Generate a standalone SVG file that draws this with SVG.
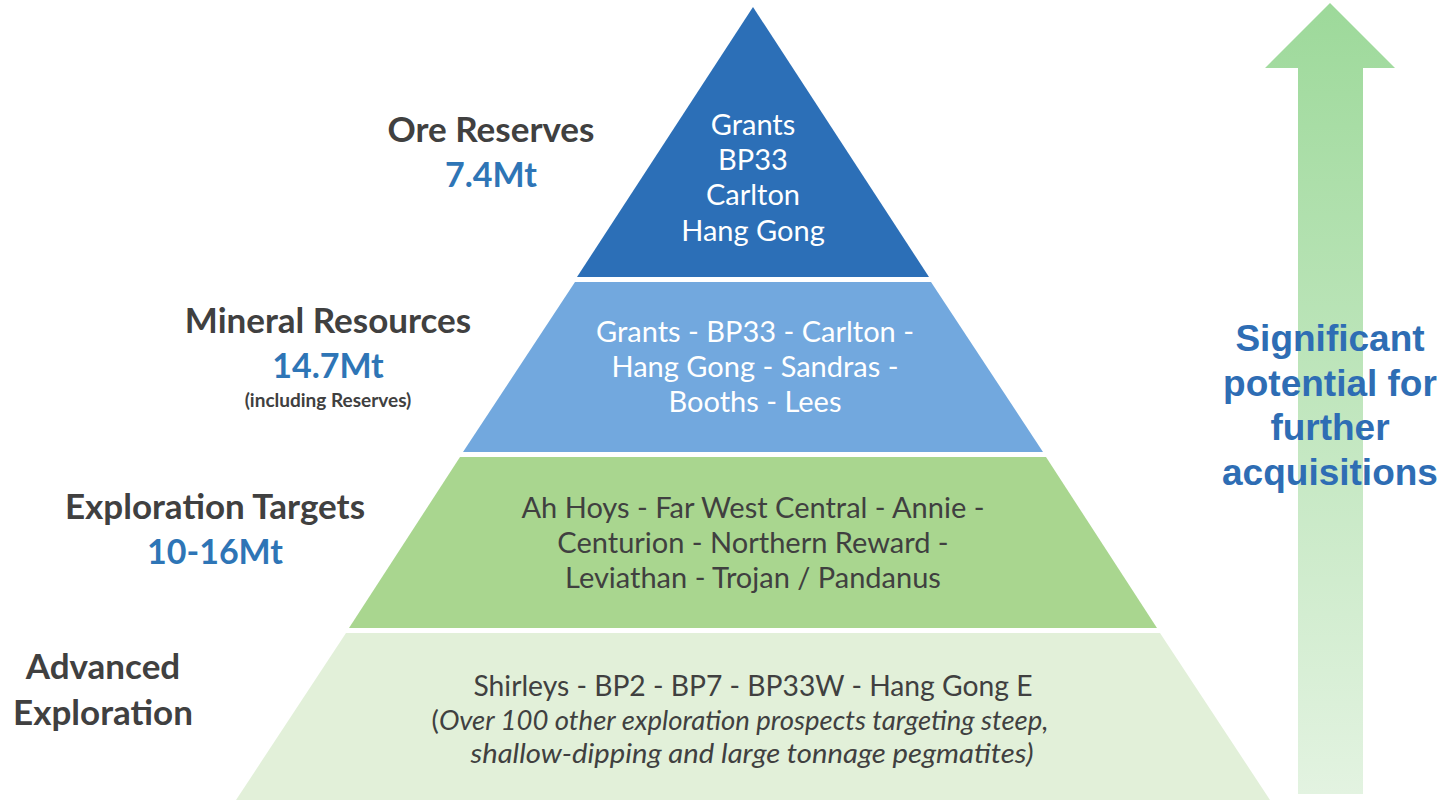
<svg xmlns="http://www.w3.org/2000/svg" width="1442" height="800" viewBox="0 0 1442 800">
<defs>
<linearGradient id="arrowGrad" x1="0" y1="0" x2="0" y2="1">
<stop offset="0" stop-color="#9DD99A"/>
<stop offset="1" stop-color="#E3F3E1"/>
</linearGradient>
<style>
.t{font-family:Lato,"Open Sans","Liberation Sans",sans-serif;text-anchor:middle}
.in{font-size:29px}
.w{fill:#FFFFFF}
.d{fill:#404040}
.lbl{font-size:35px;font-weight:bold;fill:#404040}
.val{font-size:34px;font-weight:bold;fill:#2E75B6}
.note{font-size:19px;font-weight:bold;fill:#404040}
.it{font-size:27.5px;font-style:italic}
.arr{font-family:"Liberation Sans",Arial,sans-serif;font-weight:bold;font-size:37px;fill:#2E6DB4;text-anchor:middle}
</style>
</defs>
<rect width="1442" height="800" fill="#FFFFFF"/>
<g id="arrow">
<polygon points="1330,3 1395,68 1363,68 1363,794 1298,794 1298,68 1265,68" fill="url(#arrowGrad)"/>
<text class="arr" x="1330" y="351">Significant</text>
<text class="arr" x="1330" y="396">potential for</text>
<text class="arr" x="1330" y="440">further</text>
<text class="arr" x="1330" y="485">acquisitions</text>
</g>
<g id="tier-ore-reserves">
<polygon points="753,7 929,277 577,277" fill="#2C6FB7"/>
<text class="t in w" x="753" y="135">Grants</text>
<text class="t in w" x="753" y="170">BP33</text>
<text class="t in w" x="753" y="205">Carlton</text>
<text class="t in w" x="753" y="241">Hang Gong</text>
</g>
<g id="tier-mineral-resources">
<polygon points="575,282 931,282 1043,452 463,452" fill="#72A8DE"/>
<text class="t in w" x="755" y="342">Grants - BP33 - Carlton -</text>
<text class="t in w" x="755" y="377">Hang Gong - Sandras -</text>
<text class="t in w" x="755" y="412">Booths - Lees</text>
</g>
<g id="tier-exploration-targets">
<polygon points="460,457 1046,457 1157,628 349,628" fill="#A9D68F"/>
<text class="t in d" x="753" y="518">Ah Hoys - Far West Central - Annie -</text>
<text class="t in d" x="753" y="553">Centurion - Northern Reward -</text>
<text class="t in d" x="753" y="588">Leviathan - Trojan / Pandanus</text>
</g>
<g id="tier-advanced-exploration">
<polygon points="346,633 1160,633 1270,800 236,800" fill="#E2F0D9"/>
<text class="t in d" x="753" y="696" textLength="559" lengthAdjust="spacingAndGlyphs">Shirleys - BP2 - BP7 - BP33W - Hang Gong E</text>
<text class="t it d" x="740" y="730"><tspan font-style="normal">(</tspan>Over 100 other exploration prospects targeting steep,</text>
<text class="t it d" x="752" y="763" textLength="563" lengthAdjust="spacingAndGlyphs">shallow-dipping and large tonnage pegmatites)</text>
</g>
<g id="label-ore-reserves">
<text class="t lbl" x="491" y="142">Ore Reserves</text>
<text class="t val" x="491" y="187">7.4Mt</text>
</g>
<g id="label-mineral-resources">
<text class="t lbl" x="328" y="333">Mineral Resources</text>
<text class="t val" x="328" y="378">14.7Mt</text>
<text class="t note" x="328" y="407">(including Reserves)</text>
</g>
<g id="label-exploration-targets">
<text class="t lbl" x="215" y="519">Exploration Targets</text>
<text class="t val" x="215" y="564">10-16Mt</text>
</g>
<g id="label-advanced-exploration">
<text class="t lbl" x="103" y="679">Advanced</text>
<text class="t lbl" x="103" y="725">Exploration</text>
</g>
</svg>
